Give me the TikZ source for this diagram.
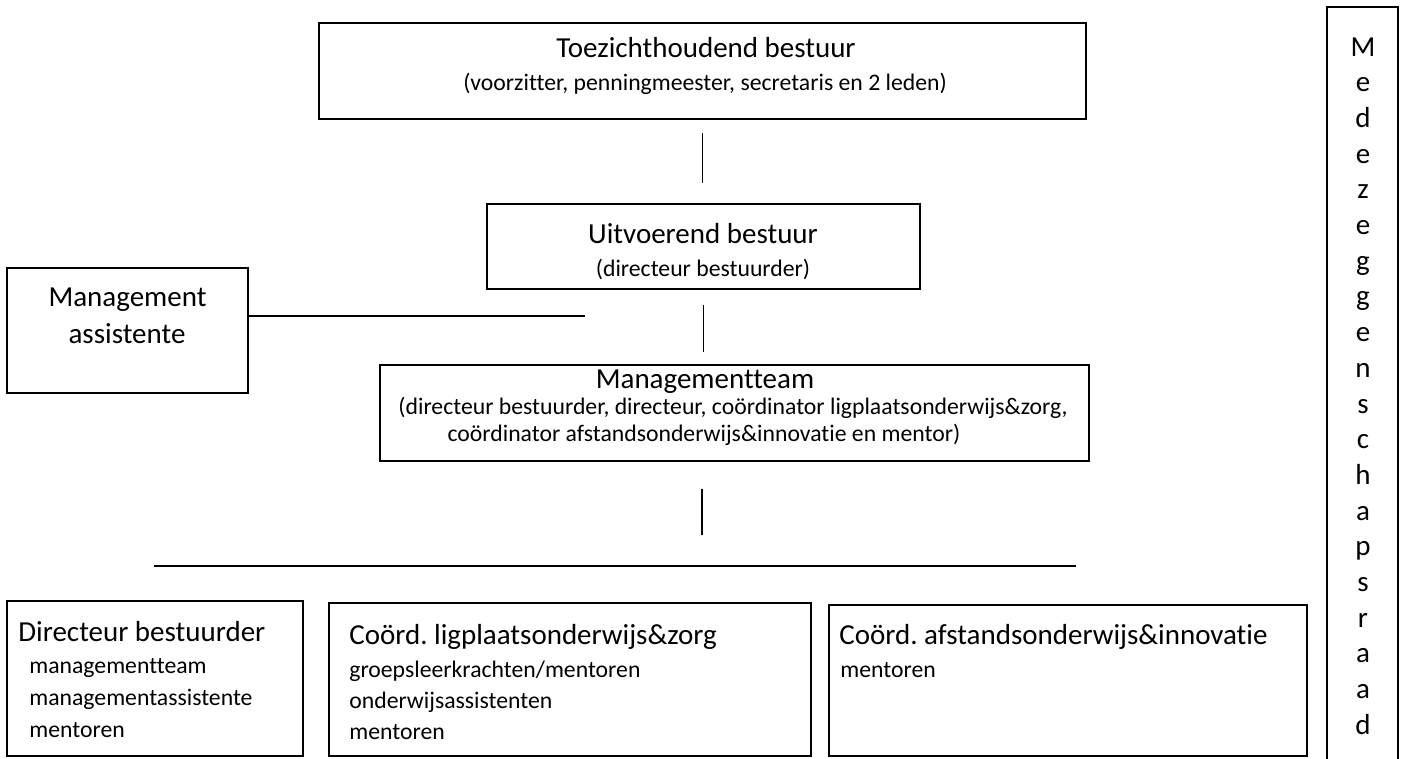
\documentclass[tikz,border=0pt]{standalone}
\usepackage{fontspec}
\setmainfont{Carlito}[Ligatures=NoCommon]
\frenchspacing

\begin{document}
\begin{tikzpicture}[x=0.02cm, y=-0.02cm,
   box/.style={draw, line width=0.9pt, inner sep=0pt},
   ttl/.style={inner sep=0pt, font=\fontsize{16.5}{20}\selectfont},
   sub/.style={inner sep=0pt, font=\fontsize{13.5}{16}\selectfont},
   lijn/.style={line width=0.9pt}]
   \useasboundingbox (0,0) rectangle (1402,758);

   % 方框
   \node[box, minimum width=15.34cm, minimum height=1.92cm] (tb) at (702.5,71) {};
   \node[box, minimum width=8.66cm, minimum height=1.7cm] (ub) at (703.5,246.5) {};
   \node[box, minimum width=4.82cm, minimum height=2.5cm] (ma) at (127.5,330.5) {};
   \node[box, minimum width=14.18cm, minimum height=1.92cm] (mt) at (734.5,413) {};
   \node[box, minimum width=5.92cm, minimum height=3.1cm] (db) at (155,678.5) {};
   \node[box, minimum width=9.64cm, minimum height=3.06cm] (cl) at (570,679.5) {};
   \node[box, minimum width=9.56cm, minimum height=3.02cm] (ca) at (1068,680.5) {};
   \node[box, minimum width=1.42cm, minimum height=15.2cm] (mr) at (1362.5,387) {};

   % 文字
   \node[ttl, anchor=base] (tb-t) at (706,57) {Toezichthoudend bestuur};
   \node[sub, anchor=base] (tb-s) at (705,90) {(voorzitter, penningmeester, secretaris en 2 leden)};
   \node[ttl, anchor=base] (ub-t) at (703,243) {Uitvoerend bestuur};
   \node[sub, anchor=base] (ub-s) at (703,276) {(directeur bestuurder)};
   \node[ttl, anchor=base] (ma-1) at (127.5,306) {Management};
   \node[ttl, anchor=base] (ma-2) at (127,343) {assistente};
   \node[ttl, anchor=base] (mt-t) at (705,388) {Managementteam};
   \node[sub, anchor=base] (mt-1) at (733,414) {(directeur bestuurder, directeur, coördinator ligplaatsonderwijs\&zorg,};
   \node[sub, anchor=base] (mt-2) at (704,441) {coördinator afstandsonderwijs\&innovatie en mentor)};

   \node[ttl, anchor=base west] (db-t) at (18,641) {Directeur bestuurder};
   \foreach \t [count=\i] in {managementteam,managementassistente,mentoren}
      \node[sub, anchor=base west] (db-\i) at (29,641+32*\i) {\t};
   \node[ttl, anchor=base west] (cl-t) at (349,644) {Coörd. ligplaatsonderwijs\&zorg};
   \foreach \t [count=\i] in {groepsleerkrachten/mentoren,onderwijsassistenten,mentoren}
      \node[sub, anchor=base west] (cl-\i) at (349,646+31*\i) {\t};
   \node[ttl, anchor=base west] (ca-t) at (839,644) {Coörd. afstandsonderwijs\&innovatie};
   \node[sub, anchor=base west] (ca-1) at (840,677) {mentoren};

   \foreach \l [count=\i from 0] in {M,e,d,e,z,e,g,g,e,n,s,c,h,a,p,s,r,a,a,d}
      \node[ttl, anchor=base] (mr-\i) at (1363,56+35.7*\i) {\l};

   % 连线
   \coordinate (mae) at (585,316);
   \coordinate (mtd) at (702,535);
   \coordinate (hl1) at (154,566);
   \coordinate (hl2) at (1076,566);
   \draw[lijn, shorten <=0.26cm, shorten >=0.4cm] (tb.south) -- (tb.south |- ub.north);
   \draw[lijn, shorten <=0.3cm, shorten >=0.24cm] (ub.south) -- (ub.south |- mt.north);
   \draw[lijn] (mae -| ma.east) -- (mae);
   \draw[lijn, shorten <=0.54cm] (mtd |- mt.south) -- (mtd);
   \draw[lijn] (hl1) -- (hl2);
\end{tikzpicture}
\end{document}
